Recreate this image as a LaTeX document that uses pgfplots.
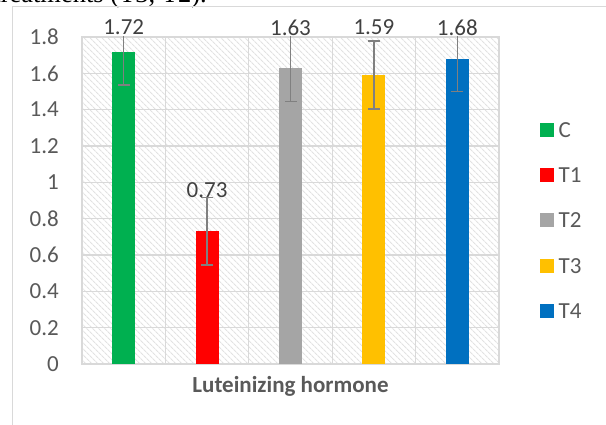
\documentclass[border=0pt]{standalone}
\usepackage{pgfplots}
\pgfplotsset{compat=1.18}
\usepackage{fontspec}
\setmainfont{Carlito}
\newfontfamily\seriffont{Liberation Serif}
\usetikzlibrary{patterns.meta}
\definecolor{cgreen}{HTML}{00B050}
\definecolor{cred}{HTML}{FF0000}
\definecolor{cgray}{HTML}{A5A5A5}
\definecolor{cyellow}{HTML}{FFC000}
\definecolor{cblue}{HTML}{0070C0}
\definecolor{errgray}{HTML}{808080}
\definecolor{gridgray}{HTML}{D9D9D9}
\definecolor{hatchgray}{HTML}{E2E2E2}
\definecolor{txtgray}{HTML}{595959}
\definecolor{lblgray}{HTML}{404040}
\pgfplotsset{
  commonaxis/.style={
    at={(82pt,61pt)}, anchor=south west,
    scale only axis, width=417pt, height=327pt,
    xmin=-0.5, xmax=4.5, ymin=0, ymax=1.8,
  }
}
\begin{document}
\begin{tikzpicture}
\useasboundingbox (0pt,0pt) rectangle (606pt,425pt);
\node[anchor=base east, inner sep=0pt, font=\seriffont\fontsize{26.5}{30}\selectfont] at (207pt,422pt) {treatments (T3, T2).};
\begin{axis}[
  commonaxis,
  ybar, bar width=23pt, bar shift=0pt,
  clip mode=individual,
  xtick={2}, xticklabels={\bfseries Luteinizing hormone},
  minor xtick={0.5,1.5,2.5,3.5},
  xminorgrids=true, xmajorgrids=false, ymajorgrids=true,
  ytick={0,0.2,0.4,0.6,0.8,1,1.2,1.4,1.6,1.8},
  yticklabels={0,0.2,0.4,0.6,0.8,1,1.2,1.4,1.6,1.8},
  major tick length=0pt, minor tick length=0pt,
  tick style={draw=none},
  grid style={draw=gridgray, line width=1.3pt},
  minor grid style={draw=gridgray, line width=1.3pt},
  axis line style={draw=gridgray, line width=1.3pt},
  axis background/.style={pattern={Lines[angle=-45,distance=4pt,line width=1.1pt]}, pattern color=hatchgray},
  tick label style={font=\fontsize{23}{27}\selectfont, text=txtgray},
  yticklabel style={inner sep=0pt, xshift=-23pt},
  xticklabel style={inner sep=0pt, yshift=-12pt},
  /pgf/number format/assume math mode=true,
  error bars/y dir=both, error bars/y explicit,
  error bars/error bar style={color=errgray, line width=1.4pt},
  error bars/error mark options={rotate=90, mark size=6pt, line width=1.4pt, color=errgray},
  legend style={at={(1.098,0.74)}, anchor=north west, draw=none, fill=none, inner sep=0pt,
    row sep=30.5pt, column sep=4.5pt, font=\fontsize{23}{27}\selectfont, text=txtgray,
    nodes={inner sep=0pt, text depth=0pt}},
  legend cell align=left,
  legend image code/.code={\fill[#1, draw=none] (0pt,-7pt) rectangle (14pt,7pt);},
]
\addplot[fill=cgreen, draw=none] coordinates {(0,1.72) +- (0,0.185)};
\addplot[fill=cred, draw=none] coordinates {(1,0.73) +- (0,0.185)};
\addplot[fill=cgray, draw=none] coordinates {(2,1.63) +- (0,0.185)};
\addplot[fill=cyellow, draw=none] coordinates {(3,1.59) +- (0,0.187)};
\addplot[fill=cblue, draw=none] coordinates {(4,1.68) +- (0,0.18)};
\legend{C,T1,T2,T3,T4}
\end{axis}
\begin{axis}[
  commonaxis, hide axis, clip=false,
]
\addplot[sharp plot, draw=none, mark=none,
  nodes near coords, point meta=explicit symbolic, nodes near coords align={center},
  every node near coord/.append style={font=\fontsize{23}{27}\selectfont, text=lblgray, inner sep=0pt, anchor=center}]
  coordinates {(0,1.852)[1.72] (1,0.957)[0.73] (2,1.852)[1.63] (3,1.852)[1.59] (4,1.852)[1.68]};
\end{axis}
\draw[gridgray, line width=1pt] (12pt,-10pt) -- (12pt,418pt) -- (620pt,418pt);
\end{tikzpicture}
\end{document}
